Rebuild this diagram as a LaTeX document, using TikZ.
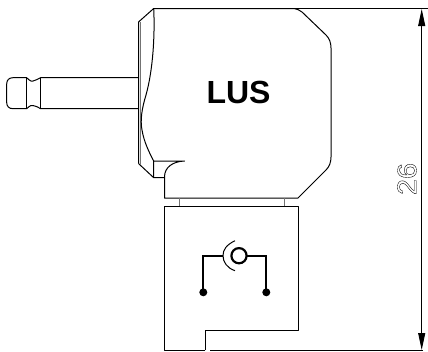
\documentclass[tikz,border=0pt]{standalone}
\usepackage{fontspec}
\setmainfont{Liberation Sans}
\usetikzlibrary{arrows.meta}
\tikzset{
  outline/.style={line width=1pt,black,line join=round},
  hidden/.style={line width=1pt,black!55},
  wire/.style={line width=2.2pt,black},
  dim/.style={line width=0.9pt,black}
}
\begin{document}
\begin{tikzpicture}[x=1pt,y=-1pt]
\useasboundingbox (0,0) rectangle (428,351);
% shaft
\draw[outline] (138.5,77.7) -- (40.7,77.7) .. controls (38,78.5) and (35.5,81) .. (33,81) -- (31,81)
  .. controls (29.5,81) and (28,78.5) .. (26.7,77.7) -- (13,77.7)
  .. controls (9,77.7) and (6.7,80) .. (6.7,84) -- (6.7,102.4)
  .. controls (6.7,106.4) and (9,108.7) .. (13,108.7) -- (26.7,108.7)
  .. controls (28,108) and (29.5,105.5) .. (31,105.5) -- (33,105.5)
  .. controls (35.5,105.5) and (38,107.5) .. (40.7,108.7) -- (138.5,108.7);
\draw[outline] (26.7,77.7) -- (26.7,108.7);
\draw[outline] (40.7,77.7) -- (40.7,108.7);
% body
\draw[outline] (138.5,163.5) -- (138.5,22) -- (153.7,8.5) -- (294,8.5)
  .. controls (297,9) and (299.5,10) .. (302,12) -- (326,35)
  .. controls (329.5,38.5) and (331,43) .. (331,48) -- (331,157)
  .. controls (331,162) and (329.5,166.5) .. (326,170) -- (298,198) -- (164.5,198) -- (164.5,177)
  .. controls (164.5,167) and (173,161.5) .. (184.5,161) -- (153.7,161) -- (153.7,177.7) -- (164.5,177.7);
\draw[outline] (138.5,163.5) -- (153.7,177.7);
\draw[hidden] (140.7,22) -- (140.7,164.5);
\draw[outline] (153.7,8.5) .. controls (155,35) and (153,70) .. (146,95)
  .. controls (142,108) and (140,120) .. (142,130) .. controls (144,142) and (149,152) .. (153.7,161);
% top extension line
\draw[outline] (294,8.5) -- (428,8.5);
% neck
\draw[hidden] (179,198) -- (179,206);
\draw[hidden] (284,198) -- (284,206);
% lower block
\draw[outline] (205.3,350.3) -- (164.3,350.3) -- (164.3,206) -- (298.3,206) -- (298.3,330.3) -- (205.3,330.3) -- (205.3,350.3);
\draw[outline] (210,350.3) -- (423,350.3);
% symbol
\draw[wire] (203.3,292.3) -- (203.3,255.7) -- (223,255.7);
\draw[wire] (266.3,292.3) -- (266.3,255.7) -- (247,255.7);
\draw[wire] (239,255.7) circle (7.6);
\fill (203.3,292.3) circle (4);
\fill (266.3,292.3) circle (4);
\draw[line width=1pt] (235,240.7) .. controls (226,245) and (223,250) .. (223,255.7) .. controls (223,262) and (227,268) .. (235,270.7);
% dimension
\draw[dim,{Triangle[length=17pt,width=7pt]}-{Triangle[length=17pt,width=7pt]}] (421.7,9) -- (421.7,350);
% labels
\node[font=\fontsize{32}{32}\selectfont\bfseries,inner sep=0pt] (lus) at (238.5,92.5) {LUS};
\node[rotate=90,inner sep=0pt,xscale=1.07,font=\fontsize{27}{27}\selectfont] (dimtext) at (407,179) {\special{pdf:code 1 Tr 0.35 w}26\special{pdf:code 0 Tr}};
\end{tikzpicture}
\end{document}
